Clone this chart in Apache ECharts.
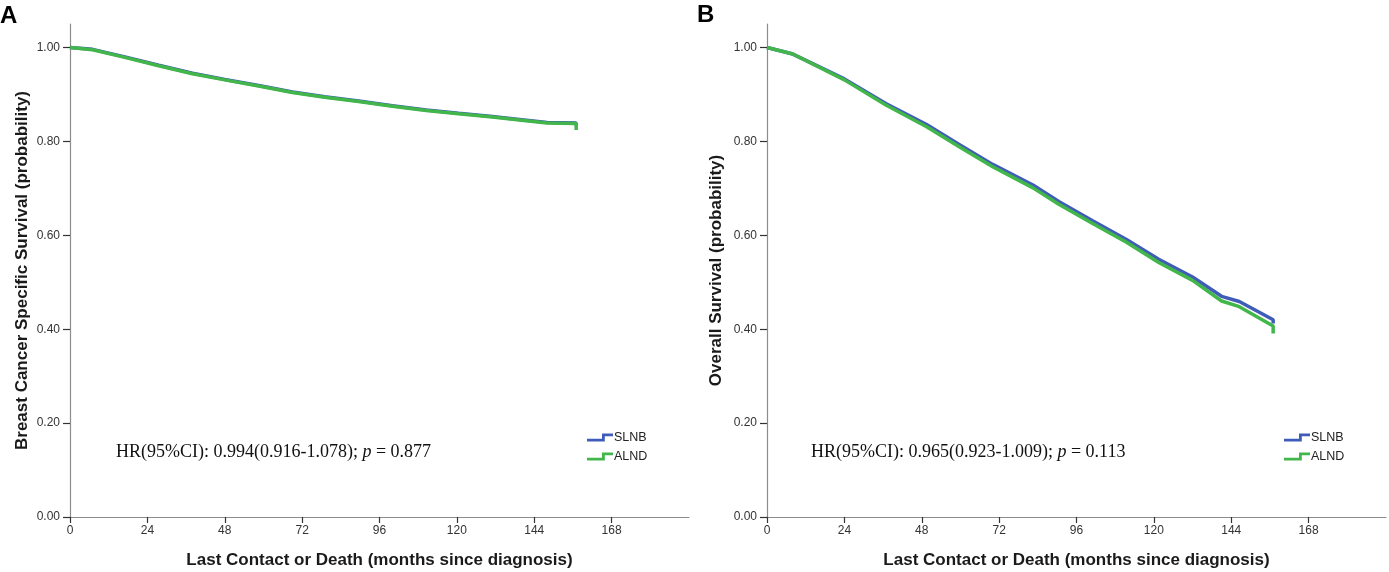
<!DOCTYPE html>
<html>
<head>
<meta charset="utf-8">
<script src="https://cdn.jsdelivr.net/npm/echarts@6/dist/echarts.min.js"></script>
<style>
html,body{margin:0;padding:0;background:#fff;}
#chart{width:1389px;height:572px;}
</style>
</head>
<body>
<div id="chart"></div>
<script>
// ---- Data ----
var xTicks = [0, 24, 48, 72, 96, 120, 144, 168];
var yTicks = [0, 0.2, 0.4, 0.6, 0.8, 1.0];

// Panel A: Breast cancer specific survival
var monthsA = [0, 7, 17, 27.5, 38, 48, 58.5, 69, 79, 89.5, 100, 110.5, 120.5, 131, 141.5, 148, 157, 157];
var slnbA   = [1.000, 0.996, 0.980, 0.962, 0.945, 0.932, 0.919, 0.905, 0.895, 0.886, 0.876, 0.867, 0.860, 0.853, 0.845, 0.840, 0.839, 0.834];
var alndA   = [1.000, 0.995, 0.979, 0.961, 0.944, 0.931, 0.918, 0.904, 0.894, 0.885, 0.875, 0.866, 0.859, 0.852, 0.844, 0.839, 0.838, 0.824];

// Panel B: Overall survival
var monthsB = [0, 8, 24, 37, 49.5, 60, 70, 82.5, 90.5, 101, 111.5, 121.5, 132, 141, 146.5, 157, 157];
var slnbB   = [1.000, 0.986, 0.933, 0.880, 0.836, 0.792, 0.751, 0.707, 0.672, 0.631, 0.591, 0.549, 0.511, 0.470, 0.459, 0.420, 0.412];
var alndB   = [1.000, 0.986, 0.931, 0.877, 0.831, 0.787, 0.746, 0.701, 0.666, 0.625, 0.585, 0.542, 0.504, 0.460, 0.448, 0.407, 0.391];

var seriesNames = ['SLNB', 'ALND'];
var hrTextA = ['HR(95%CI): 0.994(0.916-1.078); ', 'p', ' = 0.877'];
var hrTextB = ['HR(95%CI): 0.965(0.923-1.009); ', 'p', ' = 0.113'];

// ---- Helpers ----
function pairs(xs, ys) { return xs.map(function (x, i) { return [x, ys[i]]; }); }

var COLOR_BLUE = '#3f5cb8';
var COLOR_GREEN = '#42b64b';
var labelFont = '"Liberation Sans Narrow", "Liberation Sans", Arial, sans-serif';
var titleFont = '"Liberation Sans", Arial, sans-serif';
var serifFont = '"Liberation Serif", "Times New Roman", serif';

function xAxis(gridIndex) {
  return {
    type: 'value', gridIndex: gridIndex, min: 0, max: 192,
    name: 'Last Contact or Death (months since diagnosis)',
    nameLocation: 'middle', nameGap: 35,
    nameTextStyle: { fontFamily: titleFont, fontWeight: 'bold', fontSize: 17, color: '#1a1a1a' },
    axisLine: { show: true, onZero: false, lineStyle: { color: '#8c8c8c', width: 1.2 } },
    axisTick: { show: true, length: 6, customValues: xTicks, lineStyle: { color: '#333', width: 1.2 } },
    axisLabel: { customValues: xTicks, margin: 8, fontFamily: labelFont, fontSize: 12, color: '#333' },
    splitLine: { show: false }
  };
}
function yAxis(gridIndex, name, gap) {
  return {
    type: 'value', gridIndex: gridIndex, min: 0, max: 1.05,
    name: name, nameLocation: 'middle', nameGap: gap,
    nameTextStyle: { fontFamily: titleFont, fontWeight: 'bold', fontSize: 17, color: '#1a1a1a' },
    axisLine: { show: true, onZero: false, lineStyle: { color: '#8c8c8c', width: 1.2 } },
    axisTick: { show: true, length: 7, customValues: yTicks, lineStyle: { color: '#333', width: 1.2 } },
    axisLabel: { customValues: yTicks, margin: 10, fontFamily: labelFont, fontSize: 12, color: '#333',
      formatter: function (v) { return v.toFixed(2); } },
    splitLine: { show: false }
  };
}
function line(name, gi, data, color, z) {
  return {
    name: name, type: 'line', xAxisIndex: gi, yAxisIndex: gi,
    data: data, showSymbol: false, symbol: 'none', z: z, animation: false,
    lineStyle: { color: color, width: 3.5 }, itemStyle: { color: color }
  };
}
var stepIcon = 'path://M0,5.2 L15,5.2 L15,0 L26,0 L26,2.8 L17.8,2.8 L17.8,8 L0,8 Z';
function legend(left) {
  return {
    data: seriesNames, orient: 'vertical', left: left, top: 431, padding: 0,
    icon: stepIcon, itemWidth: 26, itemHeight: 8, itemGap: 6,
    textStyle: { fontFamily: titleFont, fontSize: 12.5, color: '#222', padding: [0, 0, 0, -4] },
    selectedMode: false
  };
}
function hrText(left, parts) {
  return {
    type: 'text', left: left, top: 443,
    style: {
      text: '{n|' + parts[0] + '}{i|' + parts[1] + '}{n|' + parts[2] + '}',
      rich: {
        n: { fontFamily: serifFont, fontSize: 18, fill: '#111' },
        i: { fontFamily: serifFont, fontSize: 18, fontStyle: 'italic', fill: '#111' }
      }
    }
  };
}

var option = {
  backgroundColor: '#fff',
  animation: false,
  grid: [
    { left: 70, top: 24, width: 619, bottom: 55, containLabel: false, outerBoundsMode: 'none' },
    { left: 767, top: 24, width: 619, bottom: 55, containLabel: false, outerBoundsMode: 'none' }
  ],
  xAxis: [xAxis(0), xAxis(1)],
  yAxis: [
    yAxis(0, 'Breast Cancer Specific Survival (probability)', 39),
    yAxis(1, 'Overall Survival (probability)', 42)
  ],
  legend: [legend(587), legend(1284)],
  series: [
    line(seriesNames[0], 0, pairs(monthsA, slnbA), COLOR_BLUE, 2),
    line(seriesNames[1], 0, pairs(monthsA, alndA), COLOR_GREEN, 3),
    line(seriesNames[0], 1, pairs(monthsB, slnbB), COLOR_BLUE, 2),
    line(seriesNames[1], 1, pairs(monthsB, alndB), COLOR_GREEN, 3)
  ],
  graphic: [
    { type: 'text', left: 0, top: 4, style: { text: 'A', fontFamily: titleFont, fontWeight: 'bold', fontSize: 24, fill: '#000' } },
    { type: 'text', left: 697, top: 3, style: { text: 'B', fontFamily: titleFont, fontWeight: 'bold', fontSize: 24, fill: '#000' } },
    hrText(116, hrTextA),
    hrText(811, hrTextB)
  ]
};

var chart = echarts.init(document.getElementById('chart'), null, { renderer: 'canvas' });
chart.setOption(option);
</script>
</body>
</html>
